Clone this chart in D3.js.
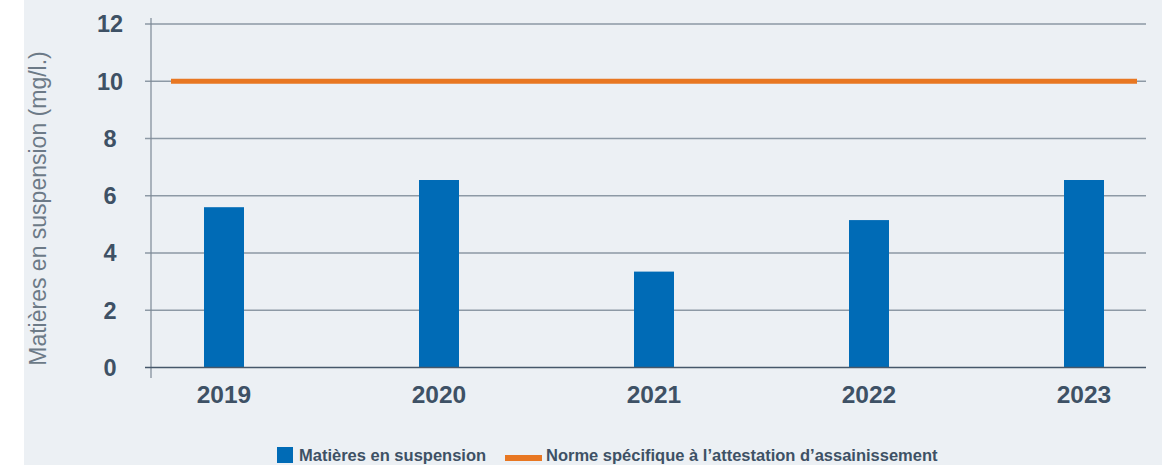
<!DOCTYPE html>
<html><head><meta charset="utf-8">
<script src="https://cdn.jsdelivr.net/npm/d3@7"></script>
<style>body{margin:0;background:#fff;}svg{display:block;}</style>
</head><body>
<svg id="c" width="1162" height="465"></svg>
<script>
const categories = ["2019","2020","2021","2022","2023"];
const suspensionValues = [5.6, 6.55, 3.35, 5.15, 6.55];
const normeValue = 10;
const yTicks = [0,2,4,6,8,10,12];
const seriesNames = ["Matières en suspension","Norme spécifique à l’attestation d’assainissement"];
const yTitle = "Matières en suspension (mg/l.)";

const svg = d3.select("#c");
svg.append("rect").attr("x",24).attr("y",0).attr("width",1138).attr("height",465).attr("fill","#ecf0f4");

const y = d3.scaleLinear().domain([0,12]).range([367.5,24]);
const x = d3.scalePoint().domain(categories).range([224,1084]);
const barW = 40;
const font = "'Liberation Sans', Arial, Helvetica, sans-serif";

// gridlines
svg.append("g").selectAll("line").data(yTicks.filter(d=>d>0)).join("line")
  .attr("x1",145).attr("x2",1146).attr("y1",d=>y(d)).attr("y2",d=>y(d))
  .attr("stroke","#8d99a5").attr("stroke-width",1.5);

// y axis line
svg.append("line").attr("x1",151).attr("x2",151).attr("y1",18).attr("y2",378)
  .attr("stroke","#7d8995").attr("stroke-width",1.2);

// tick labels
svg.append("g").selectAll("text").data(yTicks).join("text")
  .attr("x",110).attr("y",d=>y(d)).attr("dy","0.36em")
  .attr("text-anchor","middle").attr("font-family",font).attr("font-weight","bold")
  .attr("font-size",23.5).attr("fill","#3e5165").text(d=>d);

// bars
svg.append("g").selectAll("rect").data(suspensionValues).join("rect")
  .attr("x",(d,i)=>x(categories[i])-barW/2).attr("width",barW)
  .attr("y",d=>y(d)).attr("height",d=>y(0)-y(d)).attr("fill","#006bb6");

// baseline
svg.append("line").attr("x1",145).attr("x2",1146).attr("y1",y(0)).attr("y2",y(0))
  .attr("stroke","#46576a").attr("stroke-width",1.5);

// norme line
svg.append("line").attr("x1",171).attr("x2",1137).attr("y1",y(normeValue)).attr("y2",y(normeValue))
  .attr("stroke","#e87722").attr("stroke-width",5);

// x labels
svg.append("g").selectAll("text").data(categories).join("text")
  .attr("x",d=>x(d)).attr("y",402.5).attr("text-anchor","middle")
  .attr("font-family",font).attr("font-weight","bold").attr("font-size",24.5)
  .attr("fill","#3e5165").text(d=>d);

// y title
svg.append("text").attr("transform","translate(45.5,208.5) rotate(-90)")
  .attr("text-anchor","middle").attr("font-family",font).attr("font-size",23)
  .attr("fill","#6c7a87").text(yTitle);

// legend
const lg = svg.append("g");
lg.append("rect").attr("x",277).attr("y",447).attr("width",16).attr("height",16).attr("fill","#006bb6");
lg.append("text").attr("x",299).attr("y",461).attr("font-family",font).attr("font-weight","bold")
  .attr("font-size",16.5).attr("fill","#3e5165").text(seriesNames[0]);
lg.append("rect").attr("x",505).attr("y",455).attr("width",37).attr("height",6).attr("fill","#e87722");
lg.append("text").attr("x",546).attr("y",461).attr("font-family",font).attr("font-weight","bold")
  .attr("font-size",16.5).attr("fill","#3e5165").text(seriesNames[1]);
</script>
</body></html>
